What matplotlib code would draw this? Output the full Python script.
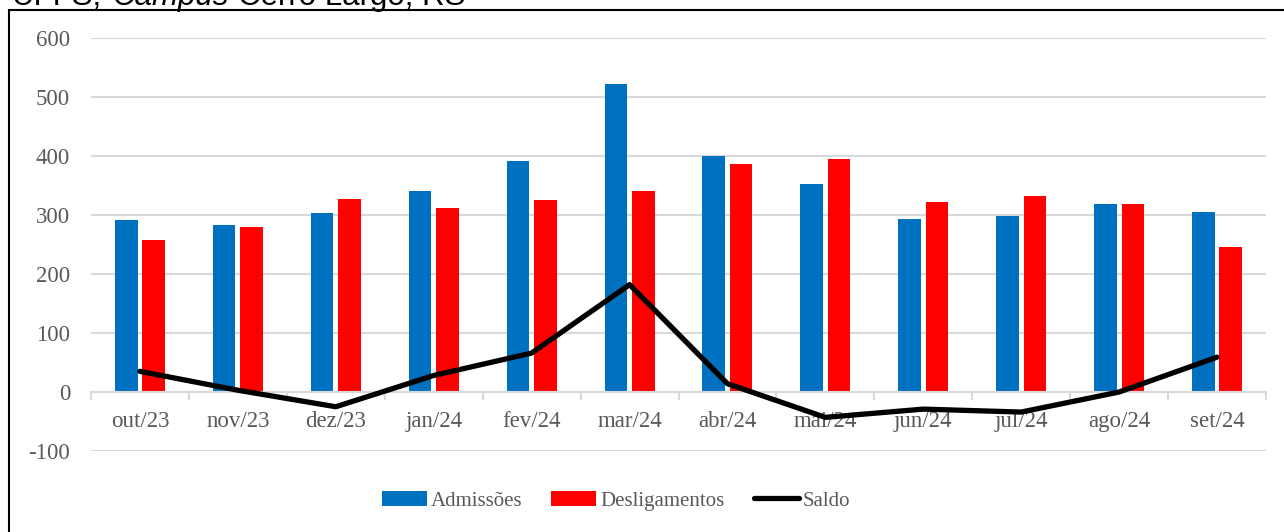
import matplotlib.pyplot as plt
import matplotlib.patches as mpatches
import numpy as np

meses = ['out/23', 'nov/23', 'dez/23', 'jan/24', 'fev/24', 'mar/24',
         'abr/24', 'mai/24', 'jun/24', 'jul/24', 'ago/24', 'set/24']
admissoes = [292, 283, 303, 341, 391, 522, 400, 352, 293, 298, 319, 305]
desligamentos = [258, 280, 327, 312, 325, 341, 386, 395, 322, 332, 319, 246]
saldo = [35, 3, -25, 28, 66, 182, 14, -43, -29, -34, 0, 59]

W, H = 1284, 532
plt.rcParams['font.family'] = ['Liberation Serif', 'DejaVu Serif']
plt.rcParams['axes.unicode_minus'] = False
fig = plt.figure(figsize=(W / 100, H / 100), dpi=100)

# moldura e titulo cortado
fig.add_artist(mpatches.Rectangle((9 / W, -0.2), 2, 1.2 - 10 / H, transform=fig.transFigure,
                                  fill=False, edgecolor='black', linewidth=1.5))
yb = 1 - 5 / H
fig.text(12 / W, yb, 'UFFS,', family='Liberation Sans', fontsize=22.5, va='baseline')
fig.text(112 / W, yb, 'Campus', family='Liberation Sans', style='italic', fontsize=22.5, va='baseline')
fig.text(238 / W, yb, 'Cerro Largo, RS', family='Liberation Sans', fontsize=22.5, va='baseline')

ax = fig.add_axes([91 / W, 1 - 451 / H, 1175 / W, 413 / H])
x = np.arange(len(meses))
w = 0.23
b1 = ax.bar(x - 0.14, admissoes, w, color='#0070C0', label='Admissões', zorder=2)
b2 = ax.bar(x + 0.14, desligamentos, w, color='#FF0000', label='Desligamentos', zorder=2)
l1, = ax.plot(x, saldo, color='black', linewidth=3.8, label='Saldo', zorder=3,
              solid_capstyle='round', solid_joinstyle='round')

ax.set_xlim(-0.5, len(meses) - 0.5)
ax.set_ylim(-100, 600)
ax.set_yticks(range(-100, 601, 100))
ax.grid(axis='y', color='#d9d9d9', linewidth=1.5, zorder=0)
for s in ['top', 'right', 'left']:
    ax.spines[s].set_visible(False)
ax.spines['bottom'].set_position(('data', 0))
ax.spines['bottom'].set_color('#d9d9d9')
ax.spines['bottom'].set_linewidth(1.5)
ax.set_xticks(x)
ax.set_xticklabels(meses)
ax.set_xticks(np.arange(-0.5, len(meses), 1), minor=True)
ax.tick_params(axis='x', which='major', length=0, pad=14, labelsize=16.5, labelcolor='#595959')
ax.tick_params(axis='x', which='minor', length=6, width=1.5, color='#d9d9d9')
ax.tick_params(axis='y', length=0, pad=15, labelsize=16.5, labelcolor='#595959')

leg = fig.legend([b1, b2, l1], ['Admissões', 'Desligamentos', 'Saldo'], loc='center',
                 bbox_to_anchor=(616 / W, 1 - 501 / H), ncol=3, frameon=False,
                 fontsize=15, handlelength=2.15, handletextpad=0.2, columnspacing=1.4)
for t in leg.get_texts():
    t.set_color('#595959')

fig.savefig('out.png', dpi=100)
